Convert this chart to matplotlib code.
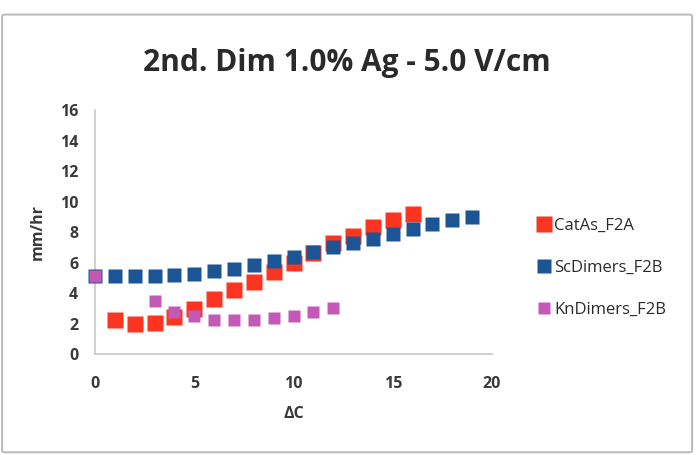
import numpy as np
import matplotlib
matplotlib.use('Agg')
import matplotlib.pyplot as plt
from matplotlib.patches import FancyBboxPatch

# data
cat_x = [1, 2, 3, 4, 5, 6, 7, 8, 9, 10, 11, 12, 13, 14, 15, 16]
cat_y = [2.2, 1.95, 2.05, 2.45, 2.97, 3.6, 4.17, 4.72, 5.35, 6.0, 6.65, 7.3, 7.75, 8.3, 8.8, 9.2]

sc_x = list(range(0, 20))
sc_y = [5.1, 5.1, 5.1, 5.12, 5.18, 5.25, 5.46, 5.57, 5.84, 6.12, 6.38, 6.69, 7.0, 7.26, 7.54, 7.89,
        8.2, 8.5, 8.79, 9.0]

kn_x = [0, 3, 4, 5, 6, 7, 8, 9, 10, 11, 12]
kn_y = [5.1, 3.45, 2.78, 2.47, 2.25, 2.2, 2.22, 2.38, 2.5, 2.75, 3.0]

labels = ['CatAs_F2A', 'ScDimers_F2B', 'KnDimers_F2B']
colors = ['#fc3420', '#1c5596', '#c458b6']

plt.rcParams['font.family'] = ['Open Sans', 'DejaVu Sans']

fig = plt.figure(figsize=(6.97, 4.55), dpi=100)

# outer chart frame
frame = FancyBboxPatch((0.003, 0.006), 0.99, 0.962, boxstyle='round,pad=0,rounding_size=0.004',
                       transform=fig.transFigure, fill=False, ec='#bdbdbd', lw=1.5)
fig.patches.append(frame)

ax = fig.add_axes([0.1363, 0.222, 0.5696, 0.536])

ax.plot(cat_x, cat_y, 's', color=colors[0], ms=11.2, mec='none', label=labels[0], zorder=3)
ax.plot(sc_x, sc_y, 's', color=colors[1], ms=10.3, mec='none', label=labels[1], zorder=4)
ax.plot(kn_x, kn_y, 's', color=colors[2], ms=9.3, mec='none', label=labels[2], zorder=5)

ax.set_xlim(0, 20)
ax.set_ylim(0, 16)
ax.set_xticks([0, 5, 10, 15, 20])
ax.set_yticks(np.arange(0, 17, 2))

for s in ['top', 'right']:
    ax.spines[s].set_visible(False)
for s in ['left', 'bottom']:
    ax.spines[s].set_color('#c8c8c8')
    ax.spines[s].set_linewidth(1.2)
ax.tick_params(axis='y', length=0, pad=12, labelsize=11.5, labelcolor='#3a3a3a')
ax.tick_params(axis='x', length=0, pad=16, labelsize=11.5, labelcolor='#3a3a3a')
for t in ax.get_xticklabels() + ax.get_yticklabels():
    t.set_fontweight('bold')
for ln in ax.lines:
    ln.set_clip_on(False)

ax.set_xlabel('ΔC', fontsize=11.5, fontweight='bold', color='#3a3a3a', labelpad=10)
ax.set_ylabel('mm/hr', fontsize=11.5, fontweight='bold', color='#3a3a3a', labelpad=10)

fig.text(0.498, 0.862, '2nd. Dim 1.0% Ag - 5.0 V/cm', ha='center', va='center',
         fontsize=21.5, fontweight='bold', color='#2a2a2a')

fig.legend(loc='center left', bbox_to_anchor=(0.75, 1 - 268 / 455), frameon=False,
           fontsize=12, labelspacing=1.55, handlelength=0.7, handletextpad=0.3,
           markerscale=1.0, labelcolor='#2a2a2a')

fig.savefig('out.png', dpi=100)
